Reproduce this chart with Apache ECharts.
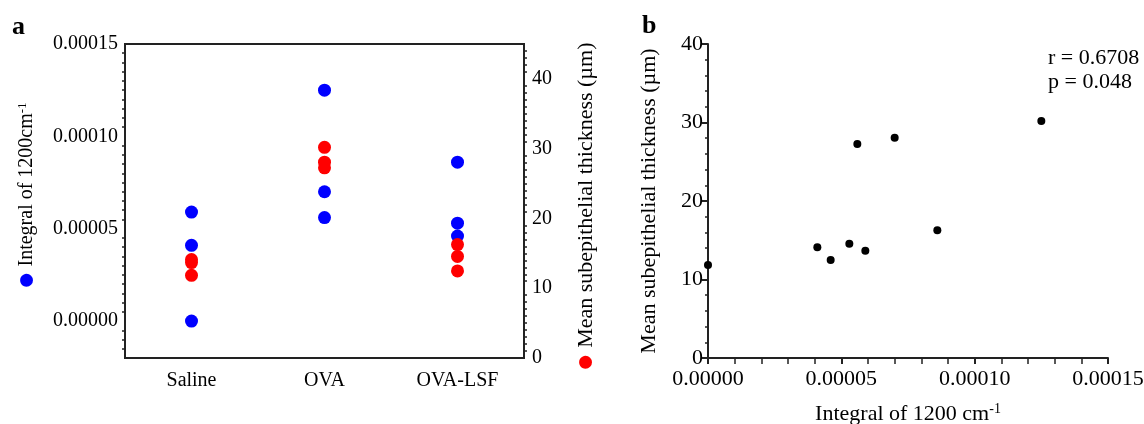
<!DOCTYPE html>
<html>
<head>
<meta charset="utf-8">
<script src="https://cdn.jsdelivr.net/npm/echarts@6/dist/echarts.min.js"></script>
<style>
html,body{margin:0;padding:0;background:#fff;}
#chart{width:1144px;height:424px;}
</style>
</head>
<body>
<div id="chart"></div>
<script>
// ---- data ----
const categories = ['Saline', 'OVA', 'OVA-LSF'];
const integralSaline = [0.0, 0.000041, 0.000059];
const integralOVA = [0.000056, 0.000070, 0.000125];
const integralOVALSF = [0.000046, 0.000053, 0.000086];
const thicknessSaline = [11.85, 14.10, 13.67];
const thicknessOVA = [27.26, 28.06, 30.19];
const thicknessOVALSF = [12.48, 14.56, 16.26];
const statsText = ['r = 0.6708', 'p = 0.048'];
const panelLabels = ['a', 'b'];

// ---- build series data ----
const integralGroups = [integralSaline, integralOVA, integralOVALSF];
const thicknessGroups = [thicknessSaline, thicknessOVA, thicknessOVALSF];
const blueData = [], redData = [], pairData = [];
categories.forEach((c, i) => {
  integralGroups[i].forEach(v => blueData.push([c, v]));
  thicknessGroups[i].forEach(v => redData.push([c, v]));
  integralGroups[i].forEach((v, j) => pairData.push([v, thicknessGroups[i][j]]));
});

const FF = "'Liberation Serif', 'Times New Roman', serif";
const AX = '#222';
const lineStyle = { color: AX, width: 2 };

const chart = echarts.init(document.getElementById('chart'), null, { renderer: 'canvas' });
chart.setOption({
  animation: false,
  backgroundColor: '#fff',
  textStyle: { fontFamily: FF, color: '#000' },
  grid: [
    { left: 125, top: 44, width: 399, height: 314, show: true, borderColor: AX, borderWidth: 2, backgroundColor: 'transparent', containLabel: false, outerBoundsMode: 'none' },
    { left: 708, top: 44, width: 400, height: 314, containLabel: false, outerBoundsMode: 'none' }
  ],
  xAxis: [
    {
      gridIndex: 0, type: 'category', data: categories, boundaryGap: true,
      axisLine: { onZero: false, lineStyle },
      axisTick: { alignWithLabel: true, length: 6, lineStyle: { color: AX, width: 2 } },
      axisLabel: { fontFamily: FF, fontSize: 20, color: '#000', margin: 13 },
      splitLine: { show: false }
    },
    {
      gridIndex: 1, type: 'value', min: 0, max: 0.00015, interval: 0.00005,
      axisLine: { onZero: false, lineStyle },
      axisTick: { length: 6, lineStyle: { color: AX, width: 2 } },
      minorTick: { show: true, splitNumber: 5, length: 6, lineStyle: { color: AX, width: 1.5 } },
      axisLabel: { fontFamily: FF, fontSize: 22, color: '#000', margin: 10, formatter: v => v.toFixed(5) },
      splitLine: { show: false }, minorSplitLine: { show: false },
      name: 'Integral of 1200 cm{sup|-1}', nameLocation: 'middle', nameGap: 44,
      nameTextStyle: {
        fontFamily: FF, fontSize: 22, color: '#000', lineHeight: 24,
        rich: { sup: { fontFamily: FF, fontSize: 14, color: '#000', verticalAlign: 'top', lineHeight: 24 } }
      }
    }
  ],
  yAxis: [
    {
      gridIndex: 0, type: 'value', position: 'left', min: -0.00002, max: 0.00015, splitNumber: 3,
      axisLine: { onZero: false, lineStyle },
      axisTick: { length: 6, lineStyle: { color: AX, width: 2 } },
      minorTick: { show: true, splitNumber: 10, length: 3, lineStyle: { color: AX, width: 1.5 } },
      axisLabel: {
        fontFamily: FF, fontSize: 20, color: '#000', margin: 7,
        formatter: v => { const k = v / 0.00005; return Math.abs(k - Math.round(k)) < 1e-6 ? v.toFixed(5) : ''; }
      },
      splitLine: { show: false }, minorSplitLine: { show: false },
      name: '{dot|●} Integral of 1200cm{sup|-1}', nameLocation: 'middle', nameRotate: 90, nameGap: 87,
      nameTextStyle: {
        fontFamily: FF, fontSize: 20, color: '#000', lineHeight: 22, padding: [0, 0, 0, 10],
        rich: {
          dot: { fontFamily: FF, fontSize: 30, color: '#0000ff', lineHeight: 22 },
          sup: { fontFamily: FF, fontSize: 13, color: '#000', verticalAlign: 'top', lineHeight: 22 }
        }
      }
    },
    {
      gridIndex: 0, type: 'value', position: 'right', min: 0, max: 45, interval: 10,
      axisLine: { onZero: false, lineStyle },
      axisTick: { length: 5, lineStyle: { color: AX, width: 2 } },
      minorTick: { show: true, splitNumber: 10, length: 3, lineStyle: { color: AX, width: 1.5 } },
      axisLabel: {
        fontFamily: FF, fontSize: 20, color: '#000', margin: 8,
        formatter: v => (Math.abs(v % 10) < 1e-9 ? String(v) : '')
      },
      splitLine: { show: false }, minorSplitLine: { show: false },
      name: '{dot|●} Mean subepithelial thickness (µm)', nameLocation: 'middle', nameRotate: 90, nameGap: 50,
      nameTextStyle: {
        fontFamily: FF, fontSize: 22, color: '#000', lineHeight: 24, padding: [0, 12, 0, 0],
        rich: { dot: { fontFamily: FF, fontSize: 30, color: '#ff0000', lineHeight: 24 } }
      }
    },
    {
      gridIndex: 1, type: 'value', min: 0, max: 40, interval: 10,
      axisLine: { onZero: false, lineStyle },
      axisTick: { length: 6, lineStyle: { color: AX, width: 2 } },
      minorTick: { show: true, splitNumber: 5, length: 3, lineStyle: { color: AX, width: 1.5 } },
      axisLabel: { fontFamily: FF, fontSize: 22, color: '#000', margin: 5 },
      splitLine: { show: false }, minorSplitLine: { show: false },
      name: 'Mean subepithelial thickness (µm)', nameLocation: 'middle', nameRotate: 90, nameGap: 47,
      nameTextStyle: { fontFamily: FF, fontSize: 22, color: '#000', lineHeight: 24 }
    }
  ],
  series: [
    { type: 'scatter', xAxisIndex: 0, yAxisIndex: 0, data: blueData, symbolSize: 13, itemStyle: { color: '#0000ff', opacity: 1 }, z: 2 },
    { type: 'scatter', xAxisIndex: 0, yAxisIndex: 1, data: redData, symbolSize: 13, itemStyle: { color: '#ff0000', opacity: 1 }, z: 3 },
    { type: 'scatter', xAxisIndex: 1, yAxisIndex: 2, data: pairData, symbolSize: 8, itemStyle: { color: '#000', opacity: 1 }, z: 2 }
  ],
  graphic: [
    { type: 'text', left: 12, top: 14, style: { text: panelLabels[0], font: "bold 26px " + FF, fill: '#000' } },
    { type: 'text', left: 642, top: 13, style: { text: panelLabels[1], font: "bold 26px " + FF, fill: '#000' } },
    { type: 'text', left: 1048, top: 47, style: { text: statsText[0], font: "22px " + FF, fill: '#000' } },
    { type: 'text', left: 1048, top: 71, style: { text: statsText[1], font: "22px " + FF, fill: '#000' } }
  ]
});
</script>
</body>
</html>
